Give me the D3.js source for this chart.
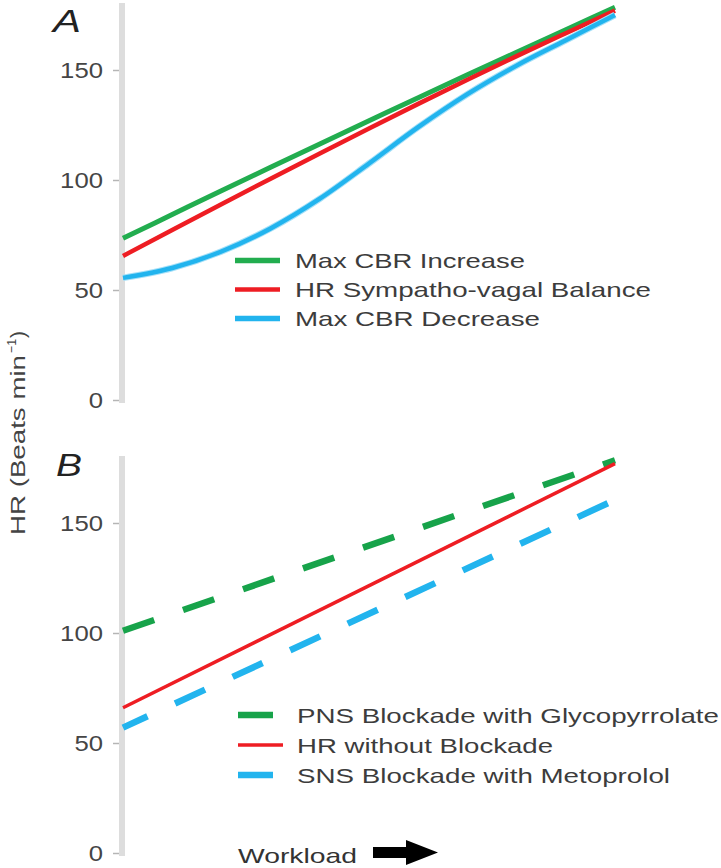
<!DOCTYPE html>
<html>
<head>
<meta charset="utf-8">
<script src="https://cdn.jsdelivr.net/npm/d3@7"></script>
<style>
  html, body { margin: 0; padding: 0; background: #fff; }
  svg { display: block; font-family: "Liberation Sans", Arial, sans-serif; }
</style>
</head>
<body>
<svg id="chart" width="721" height="868"></svg>
<script>
// ---------- DATA ----------
const workloadA = [0, 1, 2, 3, 4, 5, 6, 7, 8, 9, 10];
const maxCbrIncrease = [73.5, 84.3, 95.1, 105.8, 116.4, 126.9, 137.4, 147.8, 158.1, 168.3, 178.5];
const hrBalance      = [65.5, 77.3, 89, 100.6, 112.1, 123.4, 134.6, 145.6, 156.3, 166.7, 177];
const maxCbrDecrease = [55.5, 60, 67.5, 78, 91.5, 107.5, 124, 139, 152, 163.5, 175];

const workloadB = [0, 10];
const pnsBlockade = [101, 178.5];
const hrNoBlockade = [66, 177];
const snsBlockade = [57, 160.5];

const yTicks = [0, 50, 100, 150];
const legendA = ["Max CBR Increase", "HR Sympatho-vagal Balance", "Max CBR Decrease"];
const legendB = ["PNS Blockade with Glycopyrrolate", "HR without Blockade", "SNS Blockade with Metoprolol"];

// ---------- STYLE ----------
const GREEN = "#22ad4f", GREEN_D = "#17a34a", RED = "#ee1d23", BLUE = "#22b4ee";
const TEXT = "#3c3c3c";

const svg = d3.select("#chart");
const x = d3.scaleLinear().domain([0, 10]).range([123, 615]);
const yA = d3.scaleLinear().domain([0, 180]).range([400, 4]);
const yB = d3.scaleLinear().domain([0, 180]).range([853, 457]);

function drawAxis(y) {
  svg.append("line")
    .attr("x1", 122).attr("x2", 122)
    .attr("y1", y(0) + 3).attr("y2", y(180) - 1)
    .attr("stroke", "#dddddd").attr("stroke-width", 6);
  const g = svg.append("g").attr("transform", "translate(119,0)")
    .call(d3.axisLeft(y).tickValues(yTicks).tickSize(6).tickPadding(10));
  g.select(".domain").remove();
  g.selectAll(".tick line").attr("stroke", "#b5b5b5").attr("stroke-width", 1.5);
  g.selectAll(".tick text")
    .attr("fill", "#454545")
    .style("font-size", "22px")
    .style("font-family", "'Liberation Sans', Arial, sans-serif")
    .attr("dy", "0.36em")
    .attr("lengthAdjust", "spacingAndGlyphs")
    .attr("textLength", d => String(d).length * 14.3);
}
drawAxis(yA);
drawAxis(yB);

// ---------- PANEL A ----------
const lineA = (vals) => d3.line()
  .x((d, i) => x(workloadA[i]))
  .y(d => yA(d))
  .curve(d3.curveMonotoneX)(vals);

svg.append("path").attr("d", lineA(maxCbrIncrease))
  .attr("fill", "none").attr("stroke", GREEN).attr("stroke-width", 5);
svg.append("path").attr("d", lineA(hrBalance))
  .attr("fill", "none").attr("stroke", RED).attr("stroke-width", 4.5);
svg.append("path").attr("d", lineA(maxCbrDecrease))
  .attr("fill", "none").attr("stroke", "#a6e0f8").attr("stroke-width", 6.5);
svg.append("path").attr("d", lineA(maxCbrDecrease))
  .attr("fill", "none").attr("stroke", BLUE).attr("stroke-width", 4.5);

// legend A
const legAColors = [GREEN, RED, BLUE];
const legAYs = [260.5, 289.5, 318.5];
const legALens = [230, 356, 245];
legendA.forEach((t, i) => {
  svg.append("line")
    .attr("x1", 235).attr("x2", 280)
    .attr("y1", legAYs[i]).attr("y2", legAYs[i])
    .attr("stroke", legAColors[i]).attr("stroke-width", i === 1 ? 4.5 : 5.5);
  svg.append("text")
    .attr("x", 295).attr("y", legAYs[i] + 7.5)
    .attr("fill", TEXT).style("font-size", "21px")
    .attr("lengthAdjust", "spacingAndGlyphs").attr("textLength", legALens[i])
    .text(t);
});

// ---------- PANEL B ----------
const lineB = (vals) => d3.line()
  .x((d, i) => x(workloadB[i]))
  .y(d => yB(d))(vals);

svg.append("path").attr("d", lineB(pnsBlockade))
  .attr("fill", "none").attr("stroke", GREEN_D).attr("stroke-width", 6.5)
  .attr("stroke-dasharray", "33 30.5").attr("stroke-dashoffset", 0);
svg.append("path").attr("d", lineB(snsBlockade))
  .attr("fill", "none").attr("stroke", BLUE).attr("stroke-width", 6.5)
  .attr("stroke-dasharray", "33 30.4").attr("stroke-dashoffset", 6);
svg.append("path").attr("d", lineB(hrNoBlockade))
  .attr("fill", "none").attr("stroke", RED).attr("stroke-width", 3.5);

// legend B
const legBColors = [GREEN_D, RED, BLUE];
const legBYs = [715, 745, 775];
const legBLens = [422, 256, 373];
const legBX2 = [273, 283, 273];
legendB.forEach((t, i) => {
  svg.append("line")
    .attr("x1", 238).attr("x2", legBX2[i])
    .attr("y1", legBYs[i]).attr("y2", legBYs[i])
    .attr("stroke", legBColors[i]).attr("stroke-width", i === 1 ? 3.5 : 6.5);
  svg.append("text")
    .attr("x", 297).attr("y", legBYs[i] + 7.5)
    .attr("fill", TEXT).style("font-size", "21px")
    .attr("lengthAdjust", "spacingAndGlyphs").attr("textLength", legBLens[i])
    .text(t);
});

// ---------- LABELS ----------
svg.append("text").attr("x", 53).attr("y", 32)
  .style("font-size", "32px").style("font-style", "italic").attr("fill", "#222")
  .attr("lengthAdjust", "spacingAndGlyphs").attr("textLength", 28).text("A");
svg.append("text").attr("x", 56).attr("y", 476)
  .style("font-size", "32px").style("font-style", "italic").attr("fill", "#222")
  .attr("lengthAdjust", "spacingAndGlyphs").attr("textLength", 26).text("B");

const yl = svg.append("g").attr("transform", "translate(25,535) rotate(-90)");
yl.append("text").attr("x", 0).attr("y", 0)
  .attr("fill", "#444").style("font-size", "21px")
  .attr("lengthAdjust", "spacingAndGlyphs").attr("textLength", 180)
  .text("HR (Beats min");
yl.append("text").attr("x", 182).attr("y", -9)
  .attr("fill", "#444").style("font-size", "13px")
  .attr("lengthAdjust", "spacingAndGlyphs").attr("textLength", 14)
  .text("−1");
yl.append("text").attr("x", 197).attr("y", 0)
  .attr("fill", "#444").style("font-size", "21px")
  .text(")");

svg.append("text").attr("x", 238).attr("y", 863)
  .attr("fill", "#333").style("font-size", "21px")
  .attr("lengthAdjust", "spacingAndGlyphs").attr("textLength", 119)
  .text("Workload");
svg.append("path")
  .attr("d", "M373,847 L406,847 L406,840 L438,852.5 L406,865 L406,858 L373,858 Z")
  .attr("fill", "#000");
</script>
</body>
</html>
